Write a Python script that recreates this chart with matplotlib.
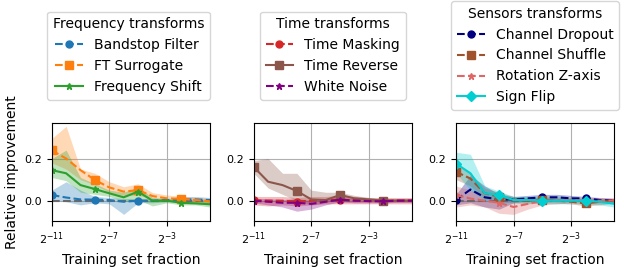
import matplotlib
matplotlib.use("Agg")
import matplotlib.pyplot as plt
from matplotlib.ticker import NullLocator
import numpy as np

# training set fractions: 2^-11 ... 2^0
exponents = [-11, -10, -9, -8, -7, -6, -5, -4, -3, -2, -1, 0]
xtick_exp = [-11, -7, -3]

# ---- Frequency transforms
bandstop = [0.027, 0.015, 0.006, 0.005, 0.003, -0.005, 0.0, 0.0, 0.003, 0.006, 0.006, 0.003]
bandstop_hi = [0.05, 0.09, 0.05, 0.02, 0.015, 0.01, 0.01, 0.01, 0.01, 0.02, 0.02, 0.015]
bandstop_lo = [0.005, -0.005, -0.02, -0.01, -0.015, -0.065, -0.01, -0.01, -0.005, -0.005, -0.01, -0.01]

ft_surr = [0.239, 0.2, 0.145, 0.098, 0.063, 0.043, 0.05, 0.022, 0.011, 0.009, 0.003, -0.003]
ft_surr_hi = [0.295, 0.353, 0.15, 0.13, 0.09, 0.066, 0.08, 0.038, 0.027, 0.02, 0.015, 0.01]
ft_surr_lo = [0.18, 0.15, 0.1, 0.075, 0.04, 0.025, 0.025, 0.01, 0.0, -0.002, -0.01, -0.015]

freq_shift = [0.145, 0.13, 0.074, 0.055, 0.035, 0.016, 0.043, 0.0, 0.0, -0.01, -0.013, -0.017]
freq_shift_hi = [0.2, 0.24, 0.11, 0.08, 0.05, 0.04, 0.065, 0.015, 0.01, 0.0, -0.005, -0.005]
freq_shift_lo = [0.11, 0.095, 0.04, 0.03, 0.02, -0.005, 0.005, -0.025, -0.01, -0.02, -0.02, -0.03]

# ---- Time transforms
time_mask = [0.002, 0.0, 0.0, -0.005, 0.0, 0.003, 0.005, 0.002, 0.0, 0.0, 0.0, 0.0]
time_mask_hi = [0.02, 0.02, 0.02, 0.015, 0.02, 0.02, 0.025, 0.02, 0.015, 0.015, 0.015, 0.015]
time_mask_lo = [-0.02, -0.025, -0.02, -0.025, -0.02, -0.015, -0.015, -0.015, -0.015, -0.015, -0.015, -0.015]

time_rev = [0.16, 0.09, 0.074, 0.046, 0.006, 0.003, 0.027, 0.011, 0.006, 0.0, 0.0, 0.0]
time_rev_hi = [0.19, 0.2, 0.13, 0.13, 0.05, 0.04, 0.04, 0.025, 0.015, 0.01, 0.01, 0.01]
time_rev_lo = [0.13, 0.06, 0.03, 0.0, -0.02, -0.01, 0.01, 0.0, -0.005, -0.005, -0.005, -0.005]

white_noise = [0.0, -0.005, -0.01, -0.01, -0.015, -0.005, 0.005, 0.0, -0.002, -0.003, 0.0, 0.0]
white_noise_hi = [0.01, 0.01, 0.005, 0.01, 0.0, 0.01, 0.015, 0.01, 0.005, 0.005, 0.008, 0.008]
white_noise_lo = [-0.01, -0.02, -0.03, -0.05, -0.04, -0.02, -0.005, -0.01, -0.01, -0.01, -0.008, -0.008]

# ---- Sensors transforms
ch_dropout = [0.003, 0.053, 0.016, 0.006, 0.006, 0.011, 0.016, 0.016, 0.011, 0.011, 0.003, 0.0]
ch_dropout_hi = [0.03, 0.12, 0.07, 0.03, 0.02, 0.025, 0.03, 0.03, 0.025, 0.02, 0.015, 0.01]
ch_dropout_lo = [-0.02, -0.01, -0.03, -0.04, -0.01, 0.0, 0.005, 0.005, 0.0, 0.0, -0.008, -0.01]

ch_shuffle = [0.137, 0.105, 0.035, 0.019, 0.006, 0.0, 0.003, 0.0, -0.005, -0.013, -0.005, 0.0]
ch_shuffle_hi = [0.17, 0.13, 0.06, 0.04, 0.02, 0.015, 0.015, 0.012, 0.008, 0.0, 0.008, 0.01]
ch_shuffle_lo = [0.1, 0.07, 0.01, -0.005, -0.01, -0.015, -0.01, -0.012, -0.015, -0.025, -0.02, -0.01]

rot_z = [0.027, 0.01, 0.0, -0.01, -0.03, -0.015, 0.0, 0.0, 0.003, 0.0, 0.0, 0.0]
rot_z_hi = [0.07, 0.05, 0.03, 0.02, 0.01, 0.01, 0.015, 0.015, 0.015, 0.015, 0.015, 0.015]
rot_z_lo = [-0.03, -0.02, -0.03, -0.06, -0.065, -0.04, -0.02, -0.015, -0.01, -0.015, -0.015, -0.015]

sign_flip = [0.176, 0.13, 0.035, 0.027, 0.003, 0.003, 0.0, 0.0, 0.0, 0.0, -0.005, -0.015]
sign_flip_hi = [0.23, 0.22, 0.07, 0.045, 0.02, 0.02, 0.02, 0.02, 0.015, 0.01, 0.01, 0.005]
sign_flip_lo = [0.13, 0.05, 0.0, -0.01, -0.01, -0.01, -0.015, -0.015, -0.015, -0.015, -0.02, -0.03]

groups = [
    ("Frequency transforms", [
        ("Bandstop Filter", bandstop, bandstop_lo, bandstop_hi, "tab:blue", "--", "o", 5),
        ("FT Surrogate", ft_surr, ft_surr_lo, ft_surr_hi, "tab:orange", "--", "s", 6),
        ("Frequency Shift", freq_shift, freq_shift_lo, freq_shift_hi, "tab:green", "-", "*", 5),
    ]),
    ("Time transforms", [
        ("Time Masking", time_mask, time_mask_lo, time_mask_hi, "tab:red", "--", "o", 5),
        ("Time Reverse", time_rev, time_rev_lo, time_rev_hi, "tab:brown", "-", "s", 6),
        ("White Noise", white_noise, white_noise_lo, white_noise_hi, "purple", "--", "*", 5),
    ]),
    ("Sensors transforms", [
        ("Channel Dropout", ch_dropout, ch_dropout_lo, ch_dropout_hi, "navy", "--", "o", 5),
        ("Channel Shuffle", ch_shuffle, ch_shuffle_lo, ch_shuffle_hi, "sienna", "--", "s", 6),
        ("Rotation Z-axis", rot_z, rot_z_lo, rot_z_hi, "#e06666", "--", "*", 5),
        ("Sign Flip", sign_flip, sign_flip_lo, sign_flip_hi, "darkturquoise", "-", "D", 5),
    ]),
]

x = 2.0 ** np.array(exponents)

fig = plt.figure(figsize=(6.24, 2.67), dpi=100)
lefts = [0.0829, 0.4066, 0.7308]
legend_anchor = [(0.485, 1.165), (0.5, 1.165), (0.5, 1.06)]

for i, (title, series) in enumerate(groups):
    ax = fig.add_axes([lefts[i], 0.1734, 0.2537, 0.367])
    for name, y, lo, hi, color, ls, marker, ms in series:
        ax.fill_between(x, lo, hi, color=color, alpha=0.3, linewidth=0)
        ax.plot(x, y, color=color, ls=ls, marker=marker, markevery=3,
                markersize=ms, linewidth=1.5, label=name)
    ax.axhline(0, color="dimgray", ls="--", lw=1.5, zorder=1.5)
    ax.set_xscale("log", base=2)
    ax.set_xlim(2.0 ** -11, 1.0)
    ax.set_xticks([2.0 ** e for e in xtick_exp])
    ax.xaxis.set_minor_locator(NullLocator())
    ax.set_ylim(-0.095, 0.37)
    ax.set_yticks([0.0, 0.2])
    ax.tick_params(labelsize=8)
    ax.grid(True, color="#b0b0b0")
    ax.set_axisbelow(True)
    ax.set_xlabel("Training set fraction", fontsize=10)
    if i == 0:
        ax.set_ylabel("Relative improvement", fontsize=10)
    ax.legend(title=title, loc="lower center", bbox_to_anchor=legend_anchor[i],
              fontsize=10, title_fontsize=10)

fig.savefig("out.png", dpi=100)
